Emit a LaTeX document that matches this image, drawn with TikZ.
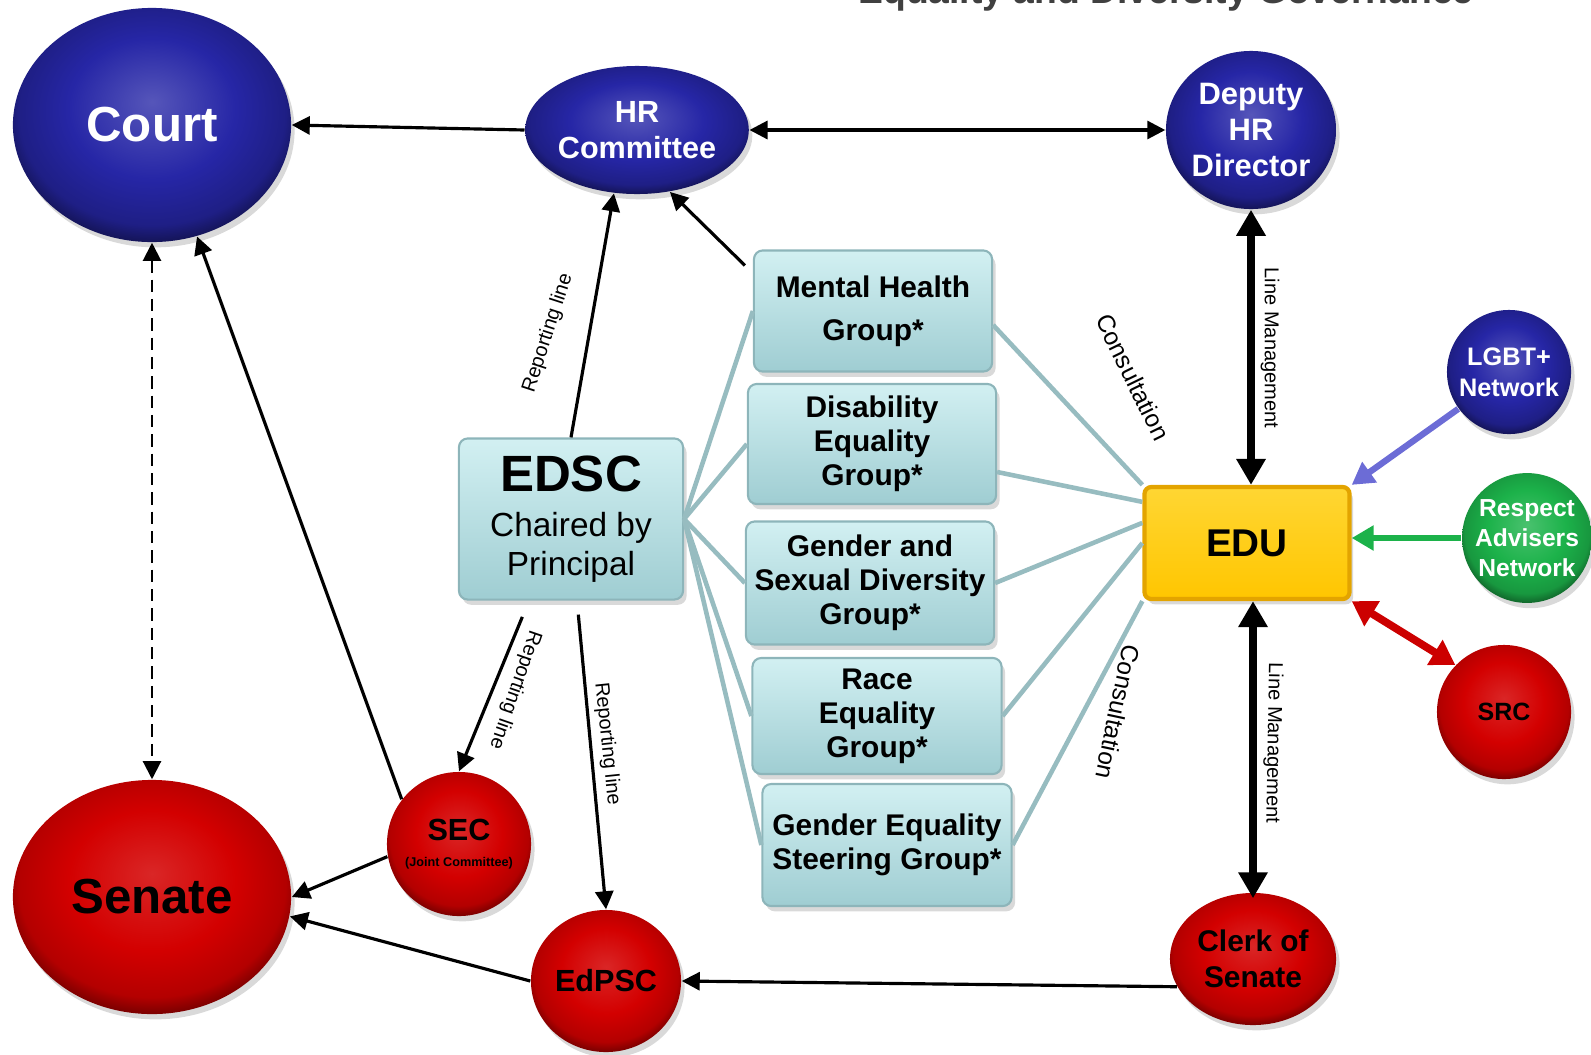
\documentclass[tikz,border=0pt]{standalone}
\usepackage{fontspec}
\setmainfont{Liberation Sans}
\usetikzlibrary{arrows.meta,shapes.geometric,shadows}
\definecolor{bluenode}{HTML}{2626A6}
\definecolor{rednode}{HTML}{D30000}
\definecolor{greennode}{HTML}{1CB24A}
\definecolor{tealtop}{HTML}{D2F0F2}
\definecolor{tealbot}{HTML}{9FCDD2}
\definecolor{tealedge}{HTML}{8DB5BA}
\definecolor{tealline}{HTML}{97BCC0}
\definecolor{eduyellow}{HTML}{FFCC00}
\definecolor{eduedge}{HTML}{E3A400}
\definecolor{lgbtline}{HTML}{6C6CD6}
\definecolor{srcline}{HTML}{CC0000}
\pgfdeclareradialshading{blueshade}{\pgfpoint{0bp}{5bp}}{color(0bp)=(bluenode!78!white); color(15bp)=(bluenode); color(24bp)=(bluenode!80!black); color(27bp)=(bluenode!55!black); color(50bp)=(bluenode!55!black)}
\pgfdeclareradialshading{redshade}{\pgfpoint{0bp}{5bp}}{color(0bp)=(rednode!85!white); color(15bp)=(rednode); color(24bp)=(rednode!85!black); color(27bp)=(rednode!60!black); color(50bp)=(rednode!60!black)}
\pgfdeclareradialshading{greenshade}{\pgfpoint{0bp}{5bp}}{color(0bp)=(greennode!80!white); color(15bp)=(greennode); color(24bp)=(greennode!85!black); color(27bp)=(greennode!60!black); color(50bp)=(greennode!60!black)}

\begin{document}
\begin{tikzpicture}[x=0.01cm, y=-0.01cm, every node/.style={align=center, inner sep=1.5pt}, orb/.style={circle, inner sep=0pt, shade, drop shadow={opacity=0.3, shadow xshift=1pt, shadow yshift=-1.5pt}}, blueorb/.style={orb, shading=blueshade, text=white}, redorb/.style={orb, shading=redshade, text=black}, greenorb/.style={orb, shading=greenshade, text=white}, groupbox/.style={draw=tealedge, line width=0.6pt, rounded corners=2.5pt, top color=tealtop, bottom color=tealbot, font=\bfseries\fontsize{8.5}{9.7}\selectfont, drop shadow={opacity=0.3, shadow xshift=1pt, shadow yshift=-1.5pt}}, edubox/.style={draw=eduedge, line width=1.2pt, rounded corners=2pt, top color=eduyellow!80!white, bottom color=eduyellow!92!orange, font=\bfseries\fontsize{11}{13}\selectfont, drop shadow={opacity=0.3, shadow xshift=1pt, shadow yshift=-1.5pt}}, lbl/.style={inner sep=0pt, font=\fontsize{5.7}{6}\selectfont}, arrow/.style={-{Triangle[length=1.8mm, width=1.8mm]}, line width=0.9pt}, dblarrow/.style={{Triangle[length=1.8mm, width=1.8mm]}-{Triangle[length=1.8mm, width=1.8mm]}, line width=0.9pt}, linearrow/.style={{Triangle[length=2.6mm, width=2.8mm]}-{Triangle[length=2.6mm, width=2.8mm]}, line width=2.4pt}, tealconn/.style={draw=tealline, line width=1.3pt}]
\useasboundingbox (0,0) rectangle (1591,1054);
\node[anchor=base, text=black!75, font=\bfseries\fontsize{10.6}{12}\selectfont] (heading) at (1166,3) {Equality and Diversity Governance};
% university bodies
\node[blueorb, ellipse, minimum width=2.78cm, minimum height=2.34cm, font=\bfseries\fontsize{14}{16}\selectfont] (court) at (152,125) {Court};
\node[redorb, ellipse, minimum width=2.78cm, minimum height=2.34cm, font=\bfseries\fontsize{14}{16}\selectfont] (senate) at (152,897) {Senate};
\node[blueorb, ellipse, minimum width=2.14cm, minimum height=1.28cm, font=\bfseries\fontsize{8.7}{10.4}\selectfont] (hrcom) at (637,130) {HR\\Committee};
\node[blueorb, ellipse, minimum width=1.70cm, minimum height=1.58cm, font=\bfseries\fontsize{8.8}{10.2}\selectfont] (deputy) at (1251,130) {Deputy\\HR\\Director};
\node[blueorb, minimum size=1.24cm, font=\bfseries\fontsize{7.2}{8.7}\selectfont] (lgbt) at (1509,372) {LGBT+\\Network};
\node[greenorb, minimum size=1.28cm, font=\bfseries\fontsize{7}{8.6}\selectfont] (respect) at (1527,538) {Respect\\Advisers\\Network};
\node[redorb, minimum size=1.34cm, font=\bfseries\fontsize{7.1}{8}\selectfont] (src) at (1504,712) {SRC};
\node[redorb, ellipse, minimum width=1.66cm, minimum height=1.32cm, font=\bfseries\fontsize{8.5}{10.2}\selectfont] (clerk) at (1253,959) {Clerk of\\Senate};
\node[redorb, ellipse, minimum width=1.50cm, minimum height=1.42cm, font=\bfseries\fontsize{8.7}{10}\selectfont] (edpsc) at (606,981) {EdPSC};
\node[redorb, minimum size=1.44cm, font=\bfseries\fontsize{8.7}{8}\selectfont] (sec) at (459,844) {SEC\\[-0.5pt]{\fontsize{3.6}{4}\selectfont(Joint Committee)}};
% committee and groups
\node[groupbox, minimum width=2.24cm, minimum height=1.61cm, font=\fontsize{9.5}{11}\selectfont] (edsc) at (571,519) {{\bfseries\fontsize{14.5}{14.5}\selectfont EDSC}\\[1.8pt]Chaired by\\Principal};
\node[groupbox, minimum width=2.38cm, minimum height=1.21cm] (mental) at (873,311) {Mental Health\\[2.6pt]Group*};
\node[groupbox, minimum width=2.48cm, minimum height=1.20cm] (disability) at (872,444) {Disability\\Equality\\Group*};
\node[groupbox, minimum width=2.48cm, minimum height=1.23cm] (gsd) at (870,583) {Gender and\\Sexual Diversity\\Group*};
\node[groupbox, minimum width=2.49cm, minimum height=1.16cm] (race) at (877,716) {Race\\Equality\\Group*};
\node[groupbox, minimum width=2.49cm, minimum height=1.22cm] (gesg) at (887,845) {Gender Equality\\Steering Group*};
\node[edubox, minimum width=2.05cm, minimum height=1.12cm] (edu) at (1247,543) {EDU};
% connectors
\draw[arrow] (hrcom.west) -- (court.east);
\draw[dblarrow] (hrcom.east) -- (deputy.west);
\draw[dashed, dash pattern=on 3.5pt off 2pt, dblarrow, line width=0.6pt] (court.south) -- (senate.north);
\draw[arrow] (sec.142) -- (court.-68);
\draw[arrow] (sec.190) -- (senate.east);
\draw[arrow] (edpsc.west) -- (senate.-8);
\draw[arrow] (clerk.200) -- (edpsc.east);
\draw[arrow] (edsc.north) -- (hrcom.-110);
\draw[arrow, shorten <=5pt] ([shift={(-42,0)}]edsc.south) -- (sec.north);
\draw[arrow, shorten <=4pt] ([shift={(6,0)}]edsc.south) -- (edpsc.north);
\draw[arrow] ([shift={(-8,16)}]mental.north west) -- (hrcom.-62);
\draw[linearrow] (deputy.south) -- (deputy.south |- edu.north);
\draw[linearrow] (edu.south -| clerk.north) -- ([shift={(0,6)}]clerk.north);
\foreach \g in {mental,disability,gsd,race,gesg}
  \draw[tealconn] (edsc.east) -- (\g.west);
\draw[tealconn] ([shift={(0,14)}]mental.east) -- (edu.north west);
\draw[tealconn] ([shift={(0,28)}]disability.east) -- ([shift={(0,17)}]edu.north west);
\draw[tealconn] (gsd.east) -- ([shift={(0,38)}]edu.north west);
\draw[tealconn] (race.east) -- (edu.west);
\draw[tealconn] (gesg.east) -- (edu.south west);
\draw[lgbtline, line width=1.8pt, -{Triangle[length=2.2mm, width=2.4mm]}] (lgbt.216) -- (edu.north east);
\draw[greennode, line width=1.8pt, -{Triangle[length=2.2mm, width=2.4mm]}] (respect.west) -- (edu.east |- respect.west);
\draw[srcline, line width=2.2pt, {Triangle[length=2.4mm, width=2.8mm]}-{Triangle[length=2.4mm, width=2.8mm]}] (src.136) -- (edu.south east);
% labels
\node[lbl, rotate=72] (rlhr) at (548,333) {Reporting line};
\node[lbl, rotate=-109] (rlsec) at (515,690) {Reporting line};
\node[lbl, rotate=-84] (rledpsc) at (607,744) {Reporting line};
\node[lbl, rotate=-90] (lmtop) at (1270,348) {Line Management};
\node[lbl, rotate=-91] (lmbot) at (1273,743) {Line Management};
\node[lbl, rotate=-64, font=\fontsize{7}{8}\selectfont] (contop) at (1133,377) {Consultation};
\node[lbl, rotate=-102, font=\fontsize{7}{8}\selectfont] (conbot) at (1118,712) {Consultation};
\end{tikzpicture}
\end{document}
